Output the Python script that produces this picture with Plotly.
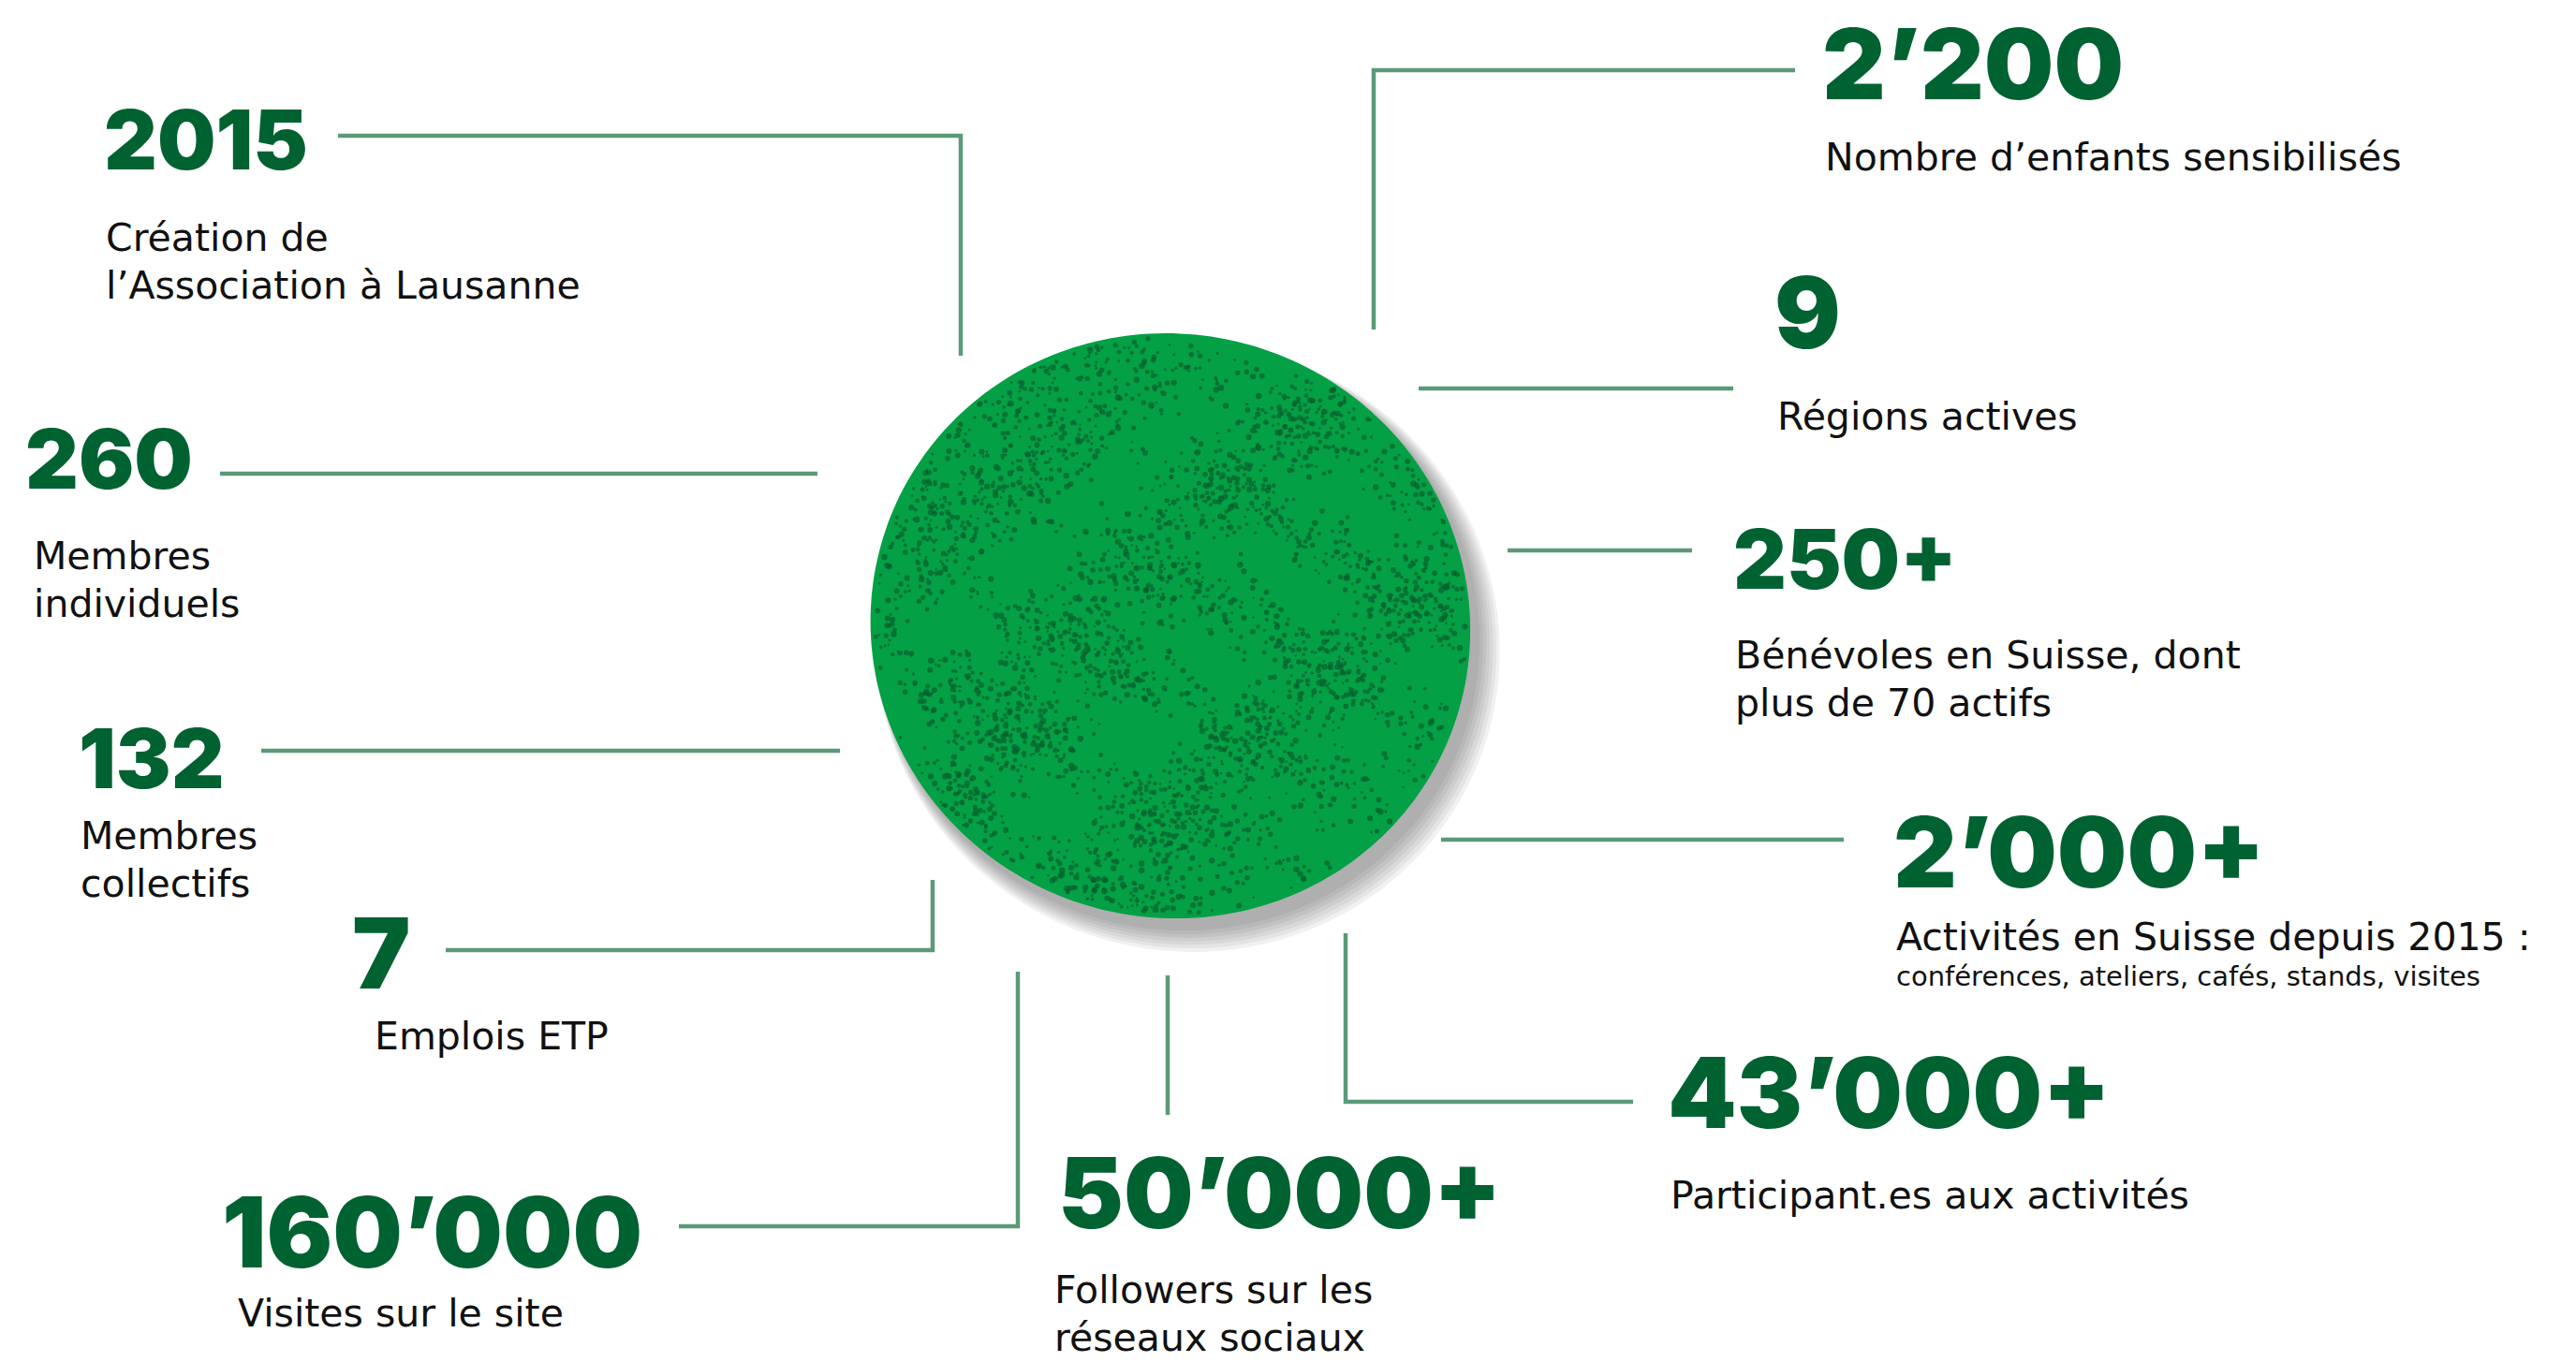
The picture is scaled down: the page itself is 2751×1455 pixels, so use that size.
import numpy as np
import plotly.graph_objects as go

# ---------------- data ----------------
values = ["2015", "260", "132", "7", "160’000", "50’000+", "43’000+",
          "2’000+", "250+", "9", "2’200"]
labels = [
    ["Création de", "l’Association à Lausanne"],
    ["Membres", "individuels"],
    ["Membres", "collectifs"],
    ["Emplois ETP"],
    ["Visites sur le site"],
    ["Followers sur les", "réseaux sociaux"],
    ["Participant.es aux activités"],
    ["Activités en Suisse depuis 2015 :"],
    ["Bénévoles en Suisse, dont", "plus de 70 actifs"],
    ["Régions actives"],
    ["Nombre d’enfants sensibilisés"],
]
sublabels = ["", "", "", "", "", "", "",
             "conférences, ateliers, cafés, stands, visites", "", "", ""]

# ---------------- layout (screen pixels) ----------------
# number: x-left, cap-centre y, size class
num_pos = [(110, 149, "s"), (26, 490, "s"), (83, 810, "s"), (375, 1017, "b"),
           (236, 1315, "b"), (1129, 1273, "b"), (1780, 1166, "b"),
           (2021, 909, "b"), (1850, 597, "s"), (1894, 333, "b"), (1945, 67, "b")]
# label: x-left, baseline of first line
lab_pos = [(112, 269), (35, 609), (85, 908), (399, 1122), (253, 1418),
           (1125, 1393), (1783, 1292), (2024, 1016), (1852, 715),
           (1897, 460), (1948, 183)]
sub_pos = {7: (2024, 1053)}
connectors = [
    [(361, 145), (1026, 145), (1026, 380)],
    [(235, 506), (873, 506)],
    [(279, 802), (897, 802)],
    [(476, 1015), (996, 1015), (996, 940)],
    [(725, 1310), (1087, 1310), (1087, 1038)],
    [(1247, 1042), (1247, 1191)],
    [(1437, 997), (1437, 1177), (1744, 1177)],
    [(1539, 897), (1969, 897)],
    [(1610, 588), (1807, 588)],
    [(1515, 415), (1851, 415)],
    [(1467, 352), (1467, 75), (1917, 75)],
]

NUM_COLOR = "#006231"
LINE_COLOR = "#5b9a78"
BLOB_COLOR = "#04a045"
SPECK_COLOR = "#05602e"
NUM_FONT = "Inter"
LAB_FONT = "DejaVu Sans"
BIG, SMALL, LAB, SUB = 105, 88, 41, 29
W, H = 2751, 1455

fig = go.Figure()

# ---------------- blob (decoration) ----------------
cx, cy = 1244, 672
ang_m = np.radians([0, 41, 90, 146, 180, 216, 270, 315])
rad_m = np.array([319, 324, 311, 303, 319, 318, 310, 329])
A = np.column_stack([np.ones_like(ang_m), np.cos(ang_m), np.sin(ang_m),
                     np.cos(2 * ang_m), np.sin(2 * ang_m)])
coef, *_ = np.linalg.lstsq(A, rad_m, rcond=None)
th = np.linspace(0, 2 * np.pi, 241)


def rfun(a):
    return (coef[0] + coef[1] * np.cos(a) + coef[2] * np.sin(a)
            + coef[3] * np.cos(2 * a) + coef[4] * np.sin(2 * a))


rr = rfun(th)


def blob_path(dx=0.0, dy=0.0, grow=0.0):
    xs = cx + dx + (rr + grow) * np.cos(th)
    ys = cy + dy + (rr + grow) * np.sin(th)
    return "M " + " L ".join(f"{x:.1f},{y:.1f}" for x, y in zip(xs, ys)) + " Z"


shapes = []
# soft shadow toward bottom-right
for k in range(7):
    shapes.append(dict(type="path", path=blob_path(9 + k * 1.6, 12 + k * 1.8, 1 + k * 2),
                       fillcolor="rgba(80,80,80,0.08)", line=dict(width=0), layer="below"))
shapes.append(dict(type="path", path=blob_path(), fillcolor=BLOB_COLOR,
                   line=dict(width=0), layer="below"))

# speckle texture (deterministic hash, decoration only)
step = 5.0
gx, gy = np.meshgrid(np.arange(cx - 330, cx + 330, step), np.arange(cy - 330, cy + 330, step))
gx = gx.ravel(); gy = gy.ravel()
h = np.sin(gx * 12.9898 + gy * 78.233) * 43758.5453
h = h - np.floor(h)
h2 = np.sin(gx * 39.346 + gy * 11.135) * 24634.6345
h2 = h2 - np.floor(h2)
h3 = np.sin(gx * 7.13 + gy * 63.71) * 15731.743
h3 = h3 - np.floor(h3)
px = gx + (h2 - 0.5) * 2.2 * step
py = gy + (h3 - 0.5) * 2.2 * step
ang = np.arctan2(py - cy, px - cx)
rad = np.hypot(px - cx, py - cy)
inside = rad < rfun(ang) - 5
cluster = (np.sin(px / 31.0) * np.cos(py / 23.0) + np.sin((px + py) / 47.0)
           + 0.7 * np.cos((px - 2 * py) / 37.0) + 0.5 * np.sin((2 * px - py) / 19.0))
keep = inside & (h < 0.25 + 0.17 * cluster)
fig.add_trace(go.Scatter(x=px[keep], y=py[keep], mode="markers",
                         marker=dict(size=2.5 + 4.0 * h2[keep], color=SPECK_COLOR,
                                     line=dict(width=0), symbol="circle"),
                         hoverinfo="skip", showlegend=False))

# ---------------- connectors ----------------
for poly in connectors:
    fig.add_trace(go.Scatter(x=[p[0] for p in poly], y=[p[1] for p in poly], mode="lines",
                             line=dict(color=LINE_COLOR, width=4.5),
                             hoverinfo="skip", showlegend=False))

# ---------------- texts ----------------
ann = []
for i, v in enumerate(values):
    x, yc, cls = num_pos[i]
    ann.append(dict(x=x, y=yc, xref="x", yref="y", text=v, showarrow=False,
                    xanchor="left", yanchor="middle", borderpad=0,
                    font=dict(family=NUM_FONT, size=BIG if cls == "b" else SMALL,
                              color=NUM_COLOR, weight=900)))
for i, lines in enumerate(labels):
    x, base = lab_pos[i]
    for j, t in enumerate(lines):
        ann.append(dict(x=x, y=base + j * 51 - 0.36 * LAB, xref="x", yref="y", text=t,
                        showarrow=False, xanchor="left", yanchor="middle", borderpad=0,
                        font=dict(family=LAB_FONT, size=LAB, color="#111111", weight=400)))
for i, t in enumerate(sublabels):
    if t:
        x, base = sub_pos[i]
        ann.append(dict(x=x, y=base - 0.36 * SUB, xref="x", yref="y", text=t,
                        showarrow=False, xanchor="left", yanchor="middle", borderpad=0,
                        font=dict(family=LAB_FONT, size=SUB, color="#111111", weight=400)))

fig.update_layout(
    width=W, height=H, autosize=False,
    margin=dict(l=0, r=0, t=0, b=0),
    paper_bgcolor="white", plot_bgcolor="white",
    xaxis=dict(range=[0, W], visible=False, fixedrange=True),
    yaxis=dict(range=[H, 0], visible=False, fixedrange=True),
    shapes=shapes, annotations=ann, showlegend=False,
)
fig.write_html("out.html",
               config={"displayModeBar": False, "staticPlot": True},
               post_script="document.body.style.margin='0';"
                           "document.body.style.overflow='hidden';"
                           "document.documentElement.style.overflow='hidden';")
